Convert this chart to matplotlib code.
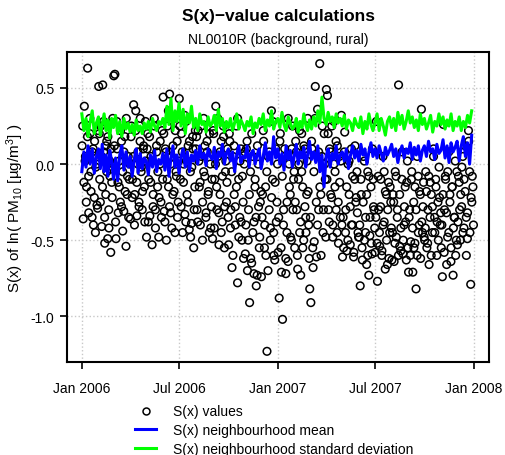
import numpy as np
import matplotlib
matplotlib.use('Agg')
import matplotlib.pyplot as plt
import matplotlib.dates as mdates
from matplotlib.lines import Line2D

plt.rcParams['font.family'] = ['Liberation Sans', 'DejaVu Sans']
plt.rcParams['mathtext.fontset'] = 'custom'
plt.rcParams['mathtext.rm'] = 'Liberation Sans'
plt.rcParams['mathtext.default'] = 'regular'

# S(x) values, one row per month (Jan 2006 .. Dec 2007)
sx_values_a = [
    [0.12, -0.36, 0.38, 0.05, -0.15, 0.63, -0.32, 0.2, -0.05, -0.35, 0.1, -0.22, -0.45, 0.0, -0.29],
    [0.51, -0.1, 0.25, -0.41, 0.52, 0.08, -0.52, -0.2, 0.15, -0.49, -0.3, 0.02, -0.58, -0.12, 0.3],
    [0.58, 0.59, -0.49, 0.1, -0.32, -0.15, 0.22, -0.28, -0.05, -0.31, 0.18, -0.54, -0.2, 0.05, -0.1],
    [-0.36, 0.25, -0.1, 0.39, -0.2, 0.35, -0.34, 0.0, -0.25, 0.15, -0.05, -0.3, 0.1, -0.15, 0.28],
    [-0.48, 0.2, -0.1, -0.34, 0.05, -0.53, -0.2, 0.3, -0.3, 0.12, -0.15, -0.48, 0.0, -0.25, 0.22],
    [0.44, -0.31, 0.1, -0.5, 0.25, -0.15, 0.46, -0.32, 0.05, -0.2, 0.3, -0.45, -0.05, 0.15, -0.25],
    [0.43, -0.1, 0.2, -0.45, 0.0, -0.33, 0.28, -0.2, 0.12, -0.43, -0.05, -0.39, 0.18, -0.55, -0.15],
    [0.1, -0.3, 0.22, -0.15, -0.4, 0.05, -0.25, 0.3, -0.08, -0.35, 0.15, -0.2, -0.45, 0.0, -0.28],
    [-0.49, 0.2, -0.1, 0.38, -0.3, 0.05, -0.53, -0.2, 0.15, -0.38, 0.25, -0.55, -0.05, -0.25, 0.1],
    [-0.53, 0.15, -0.3, -0.68, 0.05, -0.2, -0.4, 0.25, -0.78, -0.1, -0.35, 0.1, -0.5, -0.25, 0.0],
    [-0.59, 0.1, -0.7, -0.3, -0.91, -0.62, 0.2, -0.45, -0.72, -0.15, -0.35, -0.73, 0.0, -0.55, -0.25],
    [-0.74, -0.2, 0.15, -0.4, -0.6, -1.23, 0.05, -0.3, -0.5, 0.35, -0.1, -0.45, -0.63, 0.1, -0.25],
    [-0.58, -0.88, 0.2, -0.71, -1.02, -0.3, 0.1, -0.72, -0.45, -0.64, 0.0, -0.2, -0.5, 0.25, -0.1],
    [-0.55, 0.15, -0.3, -0.69, 0.0, -0.45, -0.73, 0.2, -0.15, -0.5, 0.1, -0.35, -0.2, 0.3, -0.4],
    [-0.82, -0.91, 0.1, -0.68, -0.51, 0.51, -0.61, 0.36, -0.3, 0.66, -0.2, 0.05, -0.45, 0.2, -0.1],
    [0.49, 0.45, -0.3, 0.1, -0.2, 0.25, -0.4, 0.0, -0.15, 0.15, -0.45, -0.25, 0.05, -0.35, 0.32],
    [-0.61, -0.55, 0.21, -0.3, -0.57, 0.0, -0.2, -0.53, 0.1, -0.4, -0.61, -0.1, -0.25, -0.05, -0.45],
    [-0.48, -0.8, -0.2, -0.63, 0.05, -0.5, -0.35, -0.66, -0.05, -0.73, -0.47, -0.15, -0.59, -0.1, -0.3],
    [-0.58, 0.28, -0.77, -0.3, -0.54, -0.1, -0.57, -0.4, -0.05, -0.69, -0.2, -0.66, -0.12, -0.45, -0.25],
    [-0.63, -0.2, -0.64, -0.05, -0.48, -0.3, 0.52, -0.54, -0.57, -0.1, -0.59, -0.4, -0.15, -0.63, 0.02],
    [-0.71, -0.3, -0.51, -0.05, -0.71, -0.55, -0.15, -0.82, -0.6, -0.08, -0.4, -0.2, 0.36, -0.45, -0.12],
    [-0.5, -0.05, -0.55, -0.3, -0.66, -0.12, -0.2, -0.45, 0.05, -0.35, -0.1, -0.6, -0.25, -0.02, -0.4],
    [-0.55, -0.74, 0.26, -0.3, -0.1, -0.66, -0.05, -0.45, -0.2, -0.64, -0.15, -0.73, -0.35, 0.02, -0.5],
    [-0.53, -0.08, -0.3, -0.2, -0.02, -0.45, -0.1, 0.12, -0.35, -0.49, 0.22, -0.05, -0.79, -0.25, -0.15],
]

# second batch of S(x) values per month (the days in between)
sx_values_b = [
    [0.25, -0.12, 0.02, -0.25, 0.18, -0.08, 0.3, -0.18, 0.08, -0.4, 0.15, -0.02, -0.27, 0.22],
    [0.2, -0.25, 0.05, -0.15, 0.28, -0.35, 0.12, -0.05, 0.18, -0.42, -0.08, 0.1, -0.22, 0.0],
    [0.12, -0.38, 0.28, -0.12, 0.02, -0.25, 0.15, -0.44, 0.08, -0.18, 0.3, -0.08, -0.35, 0.0],
    [0.18, -0.22, 0.05, -0.4, 0.22, -0.12, 0.08, -0.28, 0.3, -0.02, -0.18, 0.12, -0.38, 0.02],
    [0.1, -0.38, 0.18, -0.12, 0.02, -0.28, 0.25, -0.42, 0.08, -0.05, -0.22, 0.15, -0.35, -0.1],
    [0.2, -0.38, 0.08, -0.1, 0.35, -0.28, 0.0, -0.42, 0.12, -0.18, 0.22, -0.08, -0.35, 0.02],
    [0.25, -0.28, 0.08, -0.12, 0.32, -0.38, 0.02, -0.25, 0.15, -0.48, -0.02, 0.1, -0.3, 0.22],
    [0.18, -0.38, 0.02, -0.12, 0.25, -0.5, -0.05, 0.12, -0.32, 0.08, -0.18, 0.2, -0.42, -0.1],
    [0.22, -0.42, 0.0, -0.15, 0.3, -0.32, 0.08, -0.45, -0.08, 0.18, -0.28, 0.02, -0.12, -0.35],
    [0.2, -0.42, -0.05, -0.6, 0.12, -0.28, -0.15, 0.3, -0.48, 0.02, -0.38, -0.08, -0.62, 0.08],
    [-0.4, 0.15, -0.5, -0.2, -0.05, -0.65, 0.05, -0.38, -0.1, -0.8, 0.12, -0.28, -0.48, -0.18],
    [-0.35, 0.22, -0.55, -0.15, -0.05, -0.7, 0.08, -0.42, -0.22, 0.28, -0.6, -0.12, -0.38, 0.0],
    [-0.35, 0.15, -0.55, -0.08, -0.4, 0.05, -0.62, -0.25, 0.3, -0.15, -0.48, 0.1, -0.3, -0.05],
    [-0.25, 0.08, -0.6, -0.1, 0.22, -0.38, -0.05, -0.55, 0.12, -0.28, -0.45, 0.02, -0.18, -0.62],
    [-0.35, 0.15, -0.55, -0.05, 0.3, -0.25, -0.4, 0.08, -0.15, -0.6, 0.25, -0.3, 0.0, -0.48],
    [-0.1, 0.2, -0.38, 0.08, -0.22, -0.48, 0.28, -0.05, -0.3, 0.12, -0.52, -0.12, 0.02, -0.4],
    [-0.35, 0.08, -0.45, -0.15, -0.5, 0.02, -0.28, -0.4, -0.08, -0.58, 0.12, -0.22, -0.32, -0.48],
    [-0.4, -0.1, -0.55, -0.25, 0.02, -0.45, -0.2, -0.6, -0.08, -0.35, -0.52, 0.1, -0.28, -0.42],
    [-0.35, -0.52, -0.08, -0.45, -0.28, -0.6, 0.05, -0.38, -0.18, -0.5, -0.3, -0.62, -0.15, -0.42],
    [-0.45, -0.25, -0.52, -0.08, -0.35, -0.6, -0.2, -0.42, 0.08, -0.5, -0.28, -0.38, -0.12, -0.55],
    [-0.35, -0.6, -0.1, -0.42, -0.25, -0.52, -0.3, 0.05, -0.45, -0.18, -0.62, -0.38, -0.28, -0.48],
    [-0.42, -0.18, -0.52, -0.08, -0.35, -0.6, -0.28, 0.1, -0.45, -0.15, -0.38, -0.5, -0.22, -0.32],
    [-0.4, -0.2, -0.58, -0.08, -0.32, -0.48, 0.08, -0.25, -0.55, -0.15, -0.42, -0.35, -0.6, -0.05],
    [-0.38, -0.12, -0.5, -0.28, 0.05, -0.42, -0.18, -0.6, -0.32, 0.15, -0.45, -0.22, -0.08, -0.4],
]

# neighbourhood mean, 8 readings per month
nb_mean = [
    [-0.05, 0.08, -0.02, 0.12, 0.0, 0.1, -0.06, 0.05],
    [0.1, -0.03, 0.13, -0.05, 0.06, -0.08, 0.09, 0.02],
    [-0.1, 0.04, -0.11, 0.06, 0.12, -0.04, 0.08, -0.02],
    [0.05, -0.08, 0.03, 0.1, -0.06, 0.07, -0.03, 0.04],
    [0.02, -0.07, 0.06, -0.02, 0.09, -0.05, 0.03, 0.0],
    [0.07, -0.04, 0.1, -0.08, 0.04, 0.12, -0.02, 0.06],
    [-0.06, 0.05, 0.1, -0.02, 0.08, -0.05, 0.06, 0.02],
    [0.09, 0.0, 0.12, 0.04, 0.07, -0.01, 0.1, 0.05],
    [0.03, 0.11, -0.03, 0.08, 0.05, 0.13, 0.0, 0.07],
    [0.1, 0.02, 0.08, -0.05, 0.06, 0.12, 0.01, 0.05],
    [0.04, 0.12, -0.02, 0.07, 0.09, 0.0, 0.06, 0.1],
    [-0.03, 0.05, 0.14, 0.02, 0.08, 0.0, 0.18, 0.04],
    [0.1, 0.0, 0.07, -0.04, 0.12, 0.03, 0.09, -0.02],
    [0.06, 0.13, 0.0, 0.08, 0.04, 0.11, -0.02, 0.06],
    [0.15, 0.03, 0.08, 0.01, 0.12, -0.05, 0.06, -0.15],
    [0.05, 0.1, -0.02, 0.07, 0.03, 0.12, 0.0, 0.06],
    [0.08, 0.02, 0.1, -0.03, 0.06, 0.12, 0.04, 0.09],
    [0.02, 0.13, 0.06, 0.1, 0.0, 0.08, 0.14, 0.05],
    [0.1, 0.04, 0.12, 0.07, 0.02, 0.11, 0.06, 0.09],
    [0.13, 0.05, 0.1, 0.01, 0.08, 0.12, 0.04, 0.1],
    [0.07, 0.14, 0.03, 0.11, 0.06, 0.12, 0.02, 0.09],
    [0.12, 0.05, 0.15, 0.08, 0.1, 0.03, 0.13, 0.07],
    [0.09, 0.16, 0.04, 0.12, 0.01, 0.14, 0.08, 0.11],
    [0.15, 0.02, 0.12, 0.18, 0.05, 0.14, 0.0, 0.19],
]

# neighbourhood standard deviation, 8 readings per month
nb_sd = [
    [0.33, 0.22, 0.3, 0.18, 0.28, 0.35, 0.2, 0.27],
    [0.31, 0.19, 0.26, 0.33, 0.22, 0.29, 0.17, 0.3],
    [0.24, 0.32, 0.2, 0.28, 0.18, 0.3, 0.23, 0.27],
    [0.21, 0.26, 0.19, 0.29, 0.22, 0.25, 0.2, 0.27],
    [0.23, 0.28, 0.21, 0.3, 0.25, 0.22, 0.28, 0.26],
    [0.3, 0.24, 0.38, 0.26, 0.43, 0.22, 0.35, 0.28],
    [0.4, 0.25, 0.36, 0.2, 0.33, 0.27, 0.38, 0.24],
    [0.3, 0.22, 0.33, 0.26, 0.28, 0.21, 0.31, 0.25],
    [0.27, 0.32, 0.22, 0.36, 0.25, 0.3, 0.21, 0.28],
    [0.24, 0.3, 0.22, 0.27, 0.33, 0.23, 0.29, 0.26],
    [0.22, 0.28, 0.25, 0.31, 0.2, 0.27, 0.24, 0.3],
    [0.26, 0.33, 0.22, 0.29, 0.25, 0.35, 0.23, 0.28],
    [0.3, 0.24, 0.34, 0.26, 0.22, 0.31, 0.27, 0.23],
    [0.25, 0.3, 0.21, 0.28, 0.24, 0.33, 0.26, 0.22],
    [0.29, 0.23, 0.31, 0.25, 0.35, 0.27, 0.44, 0.3],
    [0.26, 0.34, 0.28, 0.31, 0.24, 0.33, 0.27, 0.3],
    [0.25, 0.32, 0.23, 0.29, 0.27, 0.22, 0.3, 0.26],
    [0.24, 0.31, 0.2, 0.28, 0.23, 0.33, 0.26, 0.22],
    [0.27, 0.33, 0.22, 0.3, 0.25, 0.19, 0.28, 0.31],
    [0.24, 0.3, 0.22, 0.34, 0.26, 0.32, 0.23, 0.28],
    [0.35, 0.27, 0.31, 0.24, 0.29, 0.22, 0.33, 0.26],
    [0.3, 0.23, 0.27, 0.32, 0.21, 0.28, 0.25, 0.33],
    [0.26, 0.31, 0.23, 0.29, 0.25, 0.33, 0.22, 0.28],
    [0.25, 0.31, 0.22, 0.28, 0.24, 0.32, 0.27, 0.35],
]

tick_dates = ['2006-01-01', '2006-07-01', '2007-01-01', '2007-07-01', '2008-01-01']
tick_labels = ['Jan 2006', 'Jul 2006', 'Jan 2007', 'Jul 2007', 'Jan 2008']
y_ticks = [0.5, 0.0, -0.5, -1.0]


def month_positions(rows, off):
    months = np.arange('2006-01', '2008-01', dtype='datetime64[M]')
    starts = mdates.date2num(months.astype('datetime64[D]'))
    ends = mdates.date2num((months + 1).astype('datetime64[D]'))
    xs, ys = [], []
    for s, e, row in zip(starts, ends, rows):
        n = len(row)
        for i, v in enumerate(row):
            xs.append(s + (i + off) * (e - s) / n)
            ys.append(v)
    return np.array(xs), np.array(ys)


xa, ya = month_positions(sx_values_a, 0.25)
xb, yb = month_positions(sx_values_b, 0.75)
xm, ym = month_positions(nb_mean, 0.0)
xs, ys = month_positions(nb_sd, 0.0)

fig = plt.figure(figsize=(5.06, 4.56), dpi=100)
ax = fig.add_axes([0.132, 0.204, 0.834, 0.68])

tk = mdates.date2num(np.array(tick_dates, dtype='datetime64[D]'))
for t in tk:
    ax.axvline(t, color='#c8c8c8', ls=':', lw=1, zorder=0)
for t in y_ticks:
    ax.axhline(t, color='#c8c8c8', ls=':', lw=1, zorder=0)

for x, y in [(xa, ya), (xb, yb)]:
    ax.scatter(x, y, s=30, facecolors='none', edgecolors='black', linewidths=1.1, zorder=2)
ax.plot(xs, ys, color='#00ff00', lw=2.2, zorder=3)
ax.plot(xm, ym, color='#0000ff', lw=2.2, zorder=3)

ax.set_xlim(tk[0] - 28, tk[0] + 758)
ax.set_ylim(-1.30, 0.737)
ax.set_xticks(tk)
ax.set_xticklabels(tick_labels, fontsize=10)
ax.set_yticks(y_ticks)
ax.set_yticklabels(['0.5', '0.0', '-0.5', '-1.0'], fontsize=10)
ax.tick_params(axis='x', direction='out', length=5, width=1.2, pad=9)
ax.tick_params(axis='y', direction='out', length=5, width=1.2, pad=4)
for sp in ax.spines.values():
    sp.set_linewidth(1.5)

ax.set_ylabel('S(x) of ln( PM$_{10}$ [µg/m$^3$] )', fontsize=11, labelpad=3)

fig.text(0.55, 0.963, 'S(x)\u2212value calculations', ha='center', va='center',
         fontsize=12.5, fontweight='bold')
fig.text(0.55, 0.912, 'NL0010R (background, rural)', ha='center', va='center', fontsize=10)

handles = [
    Line2D([], [], ls='none', marker='o', mfc='none', mec='black', ms=5, mew=1.1),
    Line2D([], [], color='#0000ff', lw=2.2),
    Line2D([], [], color='#00ff00', lw=2.2),
]
labels = ['S(x) values', 'S(x) neighbourhood mean', 'S(x) neighbourhood standard deviation']
fig.legend(handles, labels, loc='upper left', bbox_to_anchor=(0.267, 0.111),
           frameon=False, fontsize=10, handlelength=1.5, handletextpad=1.2,
           labelspacing=0.35, borderpad=0, borderaxespad=0)

fig.savefig('out.png', dpi=100)
